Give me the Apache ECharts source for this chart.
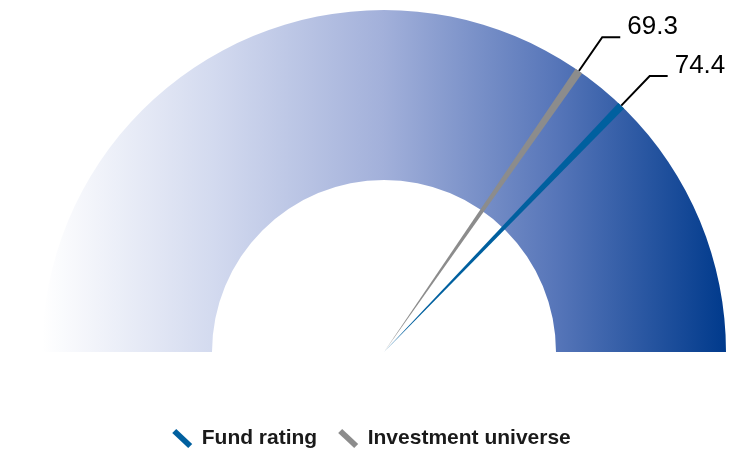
<!DOCTYPE html>
<html><head><meta charset="utf-8">
<script src="https://cdn.jsdelivr.net/npm/echarts@6/dist/echarts.min.js"></script>
<style>html,body{margin:0;padding:0;background:#fff}#c{width:743px;height:451px}</style>
</head><body><div id="c"></div>
<script>
const seriesNames = ['Fund rating', 'Investment universe'];
const seriesValues = [74.4, 69.3];
const seriesColors = ['#00609f', '#8c8c8c'];
const scaleMax = 100;
const needleWidth = 0.75;

const chart = echarts.init(document.getElementById('c'));

// build needle slices in ascending order along the arc
const order = seriesValues.map((v, i) => i).sort((a, b) => seriesValues[a] - seriesValues[b]);
const needleData = [];
let pos = 0;
order.forEach(i => {
  const start = seriesValues[i] - needleWidth / 2;
  needleData.push({ value: start - pos, name: '', itemStyle: { color: 'rgba(0,0,0,0)' }, label: { show: false }, labelLine: { show: false } });
  needleData.push({ value: needleWidth, name: seriesNames[i], itemStyle: { color: seriesColors[i] },
    label: { show: true, formatter: String(seriesValues[i]) + '\n ' } });
  pos = start + needleWidth;
});
needleData.push({ value: scaleMax - pos, name: '', itemStyle: { color: 'rgba(0,0,0,0)' }, label: { show: false }, labelLine: { show: false } });

const iconPath = 'path://M0,4 L4,0 L20,15 L16,19 Z';

chart.setOption({
  animation: false,
  legend: {
    top: 423,
    left: 'center',
    itemWidth: 21,
    itemHeight: 19,
    itemGap: 21,
    selectedMode: false,
    data: seriesNames.map(n => ({ name: n, icon: iconPath })),
    textStyle: { fontFamily: 'Liberation Sans, Arial', fontWeight: 'bold', fontSize: 21, color: '#1a1a1a', padding: [0, 0, 0, 4] }
  },
  series: [
    {
      type: 'pie',
      silent: true,
      center: [384, 352],
      radius: [172, 342],
      startAngle: 180,
      endAngle: 0,
      label: { show: false },
      labelLine: { show: false },
      data: [{ value: scaleMax, name: 'band',
        itemStyle: { color: new echarts.graphic.LinearGradient(0, 0, 1, 0, [
          { offset: 0, color: '#ffffff' },
          { offset: 0.25, color: '#d3daef' },
          { offset: 0.5, color: '#a2b0da' },
          { offset: 0.75, color: '#5776b9' },
          { offset: 1, color: '#003a8c' }
        ]) } }]
    },
    {
      type: 'pie',
      silent: true,
      center: [384, 352],
      radius: [0, 342],
      startAngle: 180,
      endAngle: 0,
      avoidLabelOverlap: false,
      labelLayout: { hideOverlap: false },
      label: { position: 'outside', fontFamily: 'Liberation Sans, Arial', fontSize: 26, lineHeight: 21, color: '#000', distanceToLabelLine: 7 },
      labelLine: { show: true, length: 41, length2: 18, lineStyle: { color: '#000', width: 2 } },
      data: needleData
    }
  ]
});
</script></body></html>
